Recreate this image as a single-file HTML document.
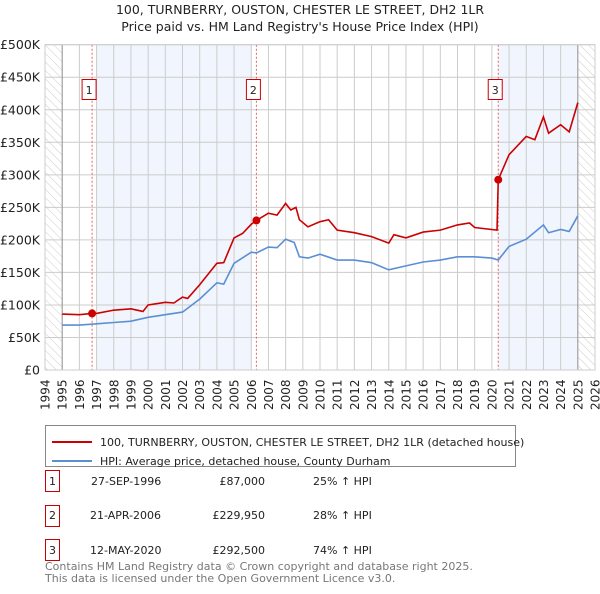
<!DOCTYPE html>
<html><head><meta charset="utf-8"><style>
body{margin:0;background:#fff;font-family:"DejaVu Sans","Liberation Sans",sans-serif;}
svg text{font-family:"DejaVu Sans","Liberation Sans",sans-serif;}
</style></head><body>
<svg id="chart" width="600" height="590" viewBox="0 0 600 590" xmlns="http://www.w3.org/2000/svg">
<defs><pattern id="hatch" width="6" height="6" patternUnits="userSpaceOnUse" patternTransform="rotate(-45)"><line x1="0" y1="0" x2="0" y2="6" stroke="#ccc" stroke-width="1"/></pattern></defs>
<text x="300" y="14" text-anchor="middle" font-size="12.5" fill="#222">100, TURNBERRY, OUSTON, CHESTER LE STREET, DH2 1LR</text>
<text x="300" y="31" text-anchor="middle" font-size="12.5" fill="#222">Price paid vs. HM Land Registry's House Price Index (HPI)</text>
<g id="plot"></g>
<rect x="45.5" y="425.5" width="470" height="41" fill="#fff" stroke="#888"/>
<line x1="52" y1="442" x2="92" y2="442" stroke="#cc0000" stroke-width="2"/>
<text x="100" y="446" font-size="11" fill="#222">100, TURNBERRY, OUSTON, CHESTER LE STREET, DH2 1LR (detached house)</text>
<line x1="52" y1="461" x2="92" y2="461" stroke="#5b8fd4" stroke-width="2"/>
<text x="100" y="465" font-size="11" fill="#222">HPI: Average price, detached house, County Durham</text>
<g font-size="11" fill="#222">
<rect x="45.5" y="470.5" width="14" height="21" fill="#fff" stroke="#cc0000"/><text x="52.5" y="485" text-anchor="middle">1</text>
<text x="91" y="485">27-SEP-1996</text><text x="265" y="485" text-anchor="end">£87,000</text><text x="313" y="485">25% ↑ HPI</text>
<rect x="45.5" y="505.5" width="14" height="21" fill="#fff" stroke="#cc0000"/><text x="52.5" y="519" text-anchor="middle">2</text>
<text x="90" y="519">21-APR-2006</text><text x="265" y="519" text-anchor="end">£229,950</text><text x="313" y="519">28% ↑ HPI</text>
<rect x="45.5" y="539.5" width="14" height="21" fill="#fff" stroke="#cc0000"/><text x="52.5" y="554" text-anchor="middle">3</text>
<text x="90" y="554">12-MAY-2020</text><text x="265" y="554" text-anchor="end">£292,500</text><text x="313" y="554">74% ↑ HPI</text>
</g>
<text x="45" y="570" font-size="11" fill="#777">Contains HM Land Registry data © Crown copyright and database right 2025.</text>
<text x="45" y="582" font-size="11" fill="#777">This data is licensed under the Open Government Licence v3.0.</text>
</svg>
<script>
const yearTicks=[1994,1995,1996,1997,1998,1999,2000,2001,2002,2003,2004,2005,2006,2007,2008,2009,2010,2011,2012,2013,2014,2015,2016,2017,2018,2019,2020,2021,2022,2023,2024,2025,2026];
const valueTicks=[0,50,100,150,200,250,300,350,400,450,500];
const valueLabels=["£0","£50K","£100K","£150K","£200K","£250K","£300K","£350K","£400K","£450K","£500K"];
const hpiDates=[1995,1996,1997,1998,1999,2000,2001,2002,2003,2004,2004.4,2005,2006,2006.3,2007,2007.5,2008,2008.5,2008.8,2009.3,2010,2011,2012,2013,2014,2015,2016,2017,2018,2019,2020,2020.37,2021,2022,2023,2023.3,2024,2024.5,2025];
const hpiValues=[69,69,71,73,75,81,85,89,109,134,132,164,181,180,189,188,201,196,174,172,178,169,169,165,154,160,166,169,174,174,172,169,190,201,223,211,216,213,237];
const priceDates=[1995,1996,1996.74,1997,1998,1999,1999.7,2000,2001,2001.5,2002,2002.3,2003,2004,2004.4,2005,2005.5,2006,2006.3,2007,2007.5,2008,2008.3,2008.6,2008.8,2009.3,2010,2010.5,2011,2012,2013,2014,2014.3,2015,2016,2017,2018,2018.7,2019,2020.3,2020.37,2021,2022,2022.5,2023,2023.3,2024,2024.5,2025];
const priceValues=[86,85,87,87,92,94,90,100,104,103,112,110,131,164,165,203,210,224,229.95,241,238,256,246,250,231,220,228,231,215,211,205,195,208,203,212,215,223,226,219,215,292.5,331,359,354,389,364,377,366,411];
const saleDates=[1996.74,2006.3,2020.37];
const saleValues=[87,229.95,292.5];
const saleLabels=["1","2","3"];
const NS="http://www.w3.org/2000/svg";
const L=45,R=595,T=44.7,B=370;
const X=y=>L+(y-1994)*(R-L)/32;
const Y=v=>B-v*(B-T)/500;
const g=document.getElementById('plot');
function mk(t,a,p){const e=document.createElementNS(NS,t);for(const k in a)e.setAttribute(k,a[k]);(p||g).appendChild(e);return e;}
let e;
e=mk('rect',{x:L,y:T,width:R-L,height:B-T,fill:'#fff'});
e=mk('rect',{x:X(1997),y:T,width:X(2006)-X(1997),height:B-T,fill:'#f1f5fd'});


e=mk('rect',{x:X(saleDates[2]),y:T,width:X(2025)-X(saleDates[2]),height:B-T,fill:'#f1f5fd'});


e=mk('rect',{x:L,y:T,width:X(1995)-L,height:B-T,fill:'url(#hatch)'});


e=mk('rect',{x:X(2025),y:T,width:R-X(2025),height:B-T,fill:'url(#hatch)'});


yearTicks.forEach(yr=>{
 e=mk('line',{x1:X(yr),x2:X(yr),y1:T,y2:B,stroke:'#ccc','stroke-width':1});
 
 
 e=mk('text',{x:0,y:0,transform:`translate(${X(yr)+4.5},${B+40}) rotate(-90)`,'font-size':12,fill:'#222'});
 e.textContent=yr;
 
 
});
valueTicks.forEach((v,i)=>{
 e=mk('line',{x1:L,x2:R,y1:Y(v),y2:Y(v),stroke:'#ccc','stroke-width':1});
 
 
 e=mk('text',{x:40,y:Y(v)+4.5,'text-anchor':'end','font-size':12.5,fill:'#222'});
 e.textContent=valueLabels[i];
 
 
});
e=mk('line',{x1:X(1995),x2:X(1995),y1:T,y2:B,stroke:'#999','stroke-width':1});


e=mk('line',{x1:X(2025),x2:X(2025),y1:T,y2:B,stroke:'#999','stroke-width':1});


saleDates.forEach((d,i)=>{
 e=mk('line',{x1:X(d),x2:X(d),y1:T,y2:B,stroke:'#e06666','stroke-width':1,'stroke-dasharray':'2,2'});
 
 
 e=mk('rect',{x:X(d)-10,y:79.5,width:14,height:20,fill:'#fff',stroke:'#cc0000'});
 
 
 e=mk('text',{x:X(d)-3,y:94,'text-anchor':'middle','font-size':11,fill:'#222'});
 e.textContent=saleLabels[i];
 
 
});
e=mk('polyline',{points:hpiDates.map((d,i)=>X(d)+','+Y(hpiValues[i])).join(' '),fill:'none',stroke:'#5b8fd4','stroke-width':1.6});


e=mk('polyline',{points:priceDates.map((d,i)=>X(d)+','+Y(priceValues[i])).join(' '),fill:'none',stroke:'#cc0000','stroke-width':1.6});


saleDates.forEach((d,i)=>{
 e=mk('circle',{cx:X(d),cy:Y(saleValues[i]),r:4,fill:'#cc0000'});
 
 
});
e=mk('rect',{x:L,y:T,width:R-L,height:B-T,fill:'none',stroke:'#ccc'});
</script>
</body></html>
